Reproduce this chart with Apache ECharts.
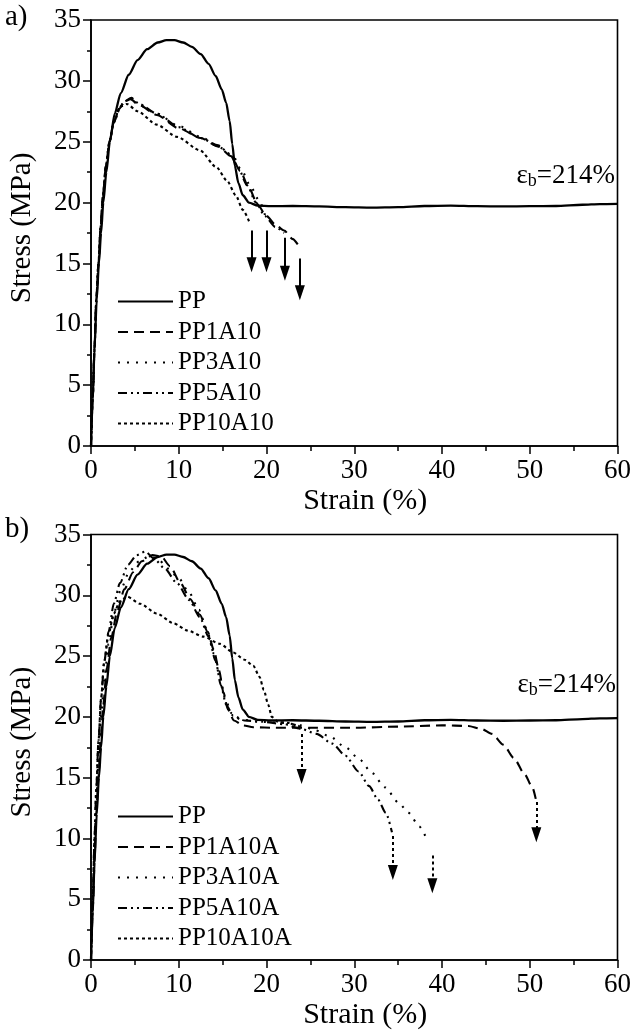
<!DOCTYPE html>
<html>
<head>
<meta charset="utf-8">
<script src="https://cdn.jsdelivr.net/npm/echarts@6/dist/echarts.min.js"></script>
<style>
html,body{margin:0;padding:0;background:#fff;}
#c{width:634px;height:1031px;}
</style>
</head>
<body>
<div id="c"></div>
<script>
// ---------- data ----------
const xTicks = [0, 10, 20, 30, 40, 50, 60];
const yTicks = [0, 5, 10, 15, 20, 25, 30, 35];

const namesA = ['PP', 'PP1A10', 'PP3A10', 'PP5A10', 'PP10A10'];
const namesB = ['PP', 'PP1A10A', 'PP3A10A', 'PP5A10A', 'PP10A10A'];

// [strain %, stress MPa]
const pp = [[0,0],[0.2,4],[0.4,8],[0.65,12],[0.9,15],[1.15,17.5],[1.4,20],[1.75,22.5],[2.15,25],[2.7,27.3],[3.4,29.0],[4.3,30.5],[5.3,31.7],[6.4,32.6],[7.6,33.15],[8.6,33.35],[9.5,33.35],[10.5,33.15],[11.5,32.8],[12.5,32.2],[13.4,31.4],[14.2,30.4],[14.9,29.3],[15.4,28.2],[15.8,26.7],[16.1,24.8],[16.4,23.0],[16.8,21.6],[17.3,20.6],[18,20.0],[19,19.75],[20.5,19.7],[23,19.72],[26,19.68],[29,19.62],[32,19.58],[35,19.62],[38,19.72],[41,19.75],[44,19.7],[47,19.68],[50,19.7],[53,19.72],[56,19.82],[58,19.88],[60,19.9]];

const pp1a10 = [[0,0],[0.2,4],[0.4,8],[0.6,12],[0.85,15],[1.1,18],[1.35,20.5],[1.7,23],[2.1,25],[2.6,26.6],[3.2,27.7],[3.8,28.3],[4.5,28.5],[5.5,28.0],[7.5,27.2],[10,26.1],[12.5,25.3],[14.5,24.6],[16,23.8],[17,22.6],[18,21.2],[19,19.8],[20,18.9],[21,18.2],[22,17.7],[23,17.0],[23.8,16.3]];
const pp3a10 = [[0,0],[0.2,4],[0.4,8],[0.6,12],[0.85,15],[1.1,18],[1.35,20.5],[1.7,23],[2.1,25],[2.6,26.6],[3.2,27.7],[3.8,28.3],[4.5,28.5],[5.5,28.0],[7.5,27.3],[10,26.3],[12.5,25.4],[14.5,24.6],[16.2,23.8],[17.2,22.6],[18.2,21.3],[19.2,20.1],[19.9,18.8]];
const pp5a10 = [[0,0],[0.2,4],[0.4,8],[0.6,12],[0.85,15],[1.1,18],[1.35,20.5],[1.7,23],[2.1,25],[2.6,26.6],[3.2,27.7],[3.8,28.3],[4.6,28.6],[5.5,28.1],[7.5,27.3],[10,26.2],[12.5,25.3],[14.5,24.7],[15.8,24.0],[16.8,22.8],[17.8,21.4],[18.8,20.0],[19.8,18.9],[21,18.0],[22,17.5]];
const pp10a10 = [[0,0],[0.2,4],[0.4,8],[0.6,12],[0.85,15],[1.1,18],[1.35,20.5],[1.7,23],[2.1,25],[2.6,26.6],[3.4,27.9],[4.1,28.1],[5.3,27.5],[7.5,26.4],[9.8,25.4],[12.4,24.3],[14.3,22.9],[15.5,21.8],[16.5,20.6],[17.3,19.4],[18.1,18.3]];

const pp1a10a = [[0,0],[0.2,4],[0.4,8],[0.6,12],[0.85,15],[1.1,18],[1.4,21],[1.8,24],[2.3,26.5],[3,28.7],[3.8,30.5],[4.8,31.9],[5.8,32.8],[7.0,33.3],[8,33.2],[9,32.4],[10.2,31.0],[11.3,29.7],[12.4,28.4],[13.3,27.0],[14,25.5],[14.6,23.8],[15.1,22.0],[15.6,20.6],[16.3,19.7],[17.3,19.3],[18.5,19.15],[21,19.1],[25,19.1],[30,19.1],[35,19.2],[40,19.3],[43,19.25],[44.5,19.0],[45.7,18.6],[47,17.7],[48.2,16.6],[49.4,15.3],[50.3,14.2],[50.7,13.2]];
const pp3a10a = [[0,0],[0.2,4.5],[0.4,9],[0.6,13],[0.85,16.5],[1.15,20],[1.5,23],[2,26],[2.6,28.5],[3.4,30.5],[4.4,32],[5.5,32.8],[6.6,33.2],[7.6,33.0],[8.8,32.2],[10,31.4],[11.2,30.2],[12.3,28.8],[13.2,27.2],[14.0,25.2],[14.7,23.2],[15.3,21.5],[16,20.3],[17,19.8],[19,19.6],[22,19.5],[24,19.3],[25.5,18.9],[27.2,18.4],[29,17.5],[30.6,16.5],[32,15.4],[33.5,14.2],[35.1,12.9],[36.2,12.1],[37.4,11.0],[38.1,10.2]];
const pp5a10a = [[0,0],[0.2,5],[0.4,10],[0.6,14],[0.85,18],[1.15,21.5],[1.5,24.5],[2,27],[2.6,29.3],[3.3,31],[4.2,32.5],[5.2,33.3],[6.2,33.6],[7.2,33.0],[8.4,32.2],[9.8,31.0],[11.2,29.6],[12.4,28.2],[13.4,26.6],[14.2,24.6],[14.8,22.6],[15.4,21.0],[16.2,20.1],[17.5,19.7],[19.5,19.6],[22,19.4],[24,19.0],[25.7,18.6],[27.5,17.8],[29,16.8],[30.5,15.5],[31.7,14.3],[32.7,13.2],[33.6,12.1],[34.3,10.5]];
const pp10a10a = [[0,0],[0.2,5],[0.4,10],[0.6,14],[0.85,18],[1.15,21.5],[1.5,24.5],[2.0,26.8],[2.6,28.5],[3.3,29.5],[4.1,29.9],[5.6,29.3],[7.5,28.5],[9.4,27.7],[11,27.1],[12.8,26.6],[14.7,26.0],[16.2,25.3],[17.5,24.7],[18.5,24.2],[19.2,23.3],[19.7,22.2],[20.2,21.0],[20.6,20.0],[21.3,19.6],[22.5,19.5],[23.5,19.3],[24,19.1]];

// failure arrows: [strain, from stress, to stress]
const arrowsA = [[18.3,17.7,14.9],[20.0,17.7,14.9],[22.1,17.1,14.2],[23.8,15.4,12.6]];
const arrowsB = [[24.0,18.6,15.1],[34.4,10.2,7.2],[38.9,8.6,6.1],[50.75,13.0,10.3]];

// ---------- styling ----------
const FONT = '"Liberation Serif", "Times New Roman", Times, serif';
const dashes = {
  solid: 'solid',
  dash: [10, 6],
  sparseDot: [2, 7],
  dashDot: [9, 4, 2, 4, 2, 4],
  denseDot: [3, 3]
};

function lineSeries(name, data, styleKey, gi, arrow, arrowType) {
  const s = {
    name: name, type: 'line', data: data,
    xAxisIndex: gi, yAxisIndex: gi,
    symbol: 'none', smooth: 0.25, smoothMonotone: 'x',
    lineStyle: { color: '#000', width: styleKey === 'solid' ? 2.3 : 2.1, type: dashes[styleKey] },
    itemStyle: { color: '#000' },
    z: 3
  };
  if (arrow) {
    s.markLine = {
      silent: true, animation: false,
      symbol: ['none', 'triangle'], symbolSize: [10, 15],
      label: { show: false },
      lineStyle: { color: '#000', width: 2, type: arrowType },
      emphasis: { disabled: true },
      data: [[{ coord: [arrow[0], arrow[1]] }, { coord: [arrow[0], arrow[2]] }]]
    };
  }
  return s;
}

const seriesA = [
  lineSeries(namesA[0], pp, 'solid', 0),
  lineSeries(namesA[1], pp1a10, 'dash', 0, arrowsA[3], 'solid'),
  lineSeries(namesA[2], pp3a10, 'sparseDot', 0, arrowsA[1], 'solid'),
  lineSeries(namesA[3], pp5a10, 'dashDot', 0, arrowsA[2], 'solid'),
  lineSeries(namesA[4], pp10a10, 'denseDot', 0, arrowsA[0], 'solid')
];
const seriesB = [
  lineSeries(namesB[0], pp, 'solid', 1),
  lineSeries(namesB[1], pp1a10a, 'dash', 1, arrowsB[3], [3, 3]),
  lineSeries(namesB[2], pp3a10a, 'sparseDot', 1, arrowsB[2], [3, 3]),
  lineSeries(namesB[3], pp5a10a, 'dashDot', 1, arrowsB[1], [3, 3]),
  lineSeries(namesB[4], pp10a10a, 'denseDot', 1, arrowsB[0], [3, 3])
];

function xAxisCfg(gi) {
  return {
    type: 'value', gridIndex: gi, min: xTicks[0], max: xTicks[xTicks.length - 1], interval: 10,
    name: 'Strain (%)', nameLocation: 'middle', nameGap: 40,
    nameTextStyle: { fontFamily: FONT, fontSize: 30, color: '#000', padding: [0, 0, 0, 22] },
    axisLine: { show: true, lineStyle: { color: '#000', width: 1.6 } },
    axisTick: { show: true, length: 8, lineStyle: { color: '#000', width: 1.5 } },
    minorTick: { show: true, splitNumber: 2, length: 5, lineStyle: { color: '#000', width: 1.5 } },
    axisLabel: { fontFamily: FONT, fontSize: 27, color: '#000', margin: 11 },
    splitLine: { show: false }
  };
}
function yAxisCfg(gi) {
  return {
    type: 'value', gridIndex: gi, min: yTicks[0], max: yTicks[yTicks.length - 1], interval: 5,
    name: 'Stress (MPa)', nameLocation: 'middle', nameGap: 54,
    nameTextStyle: { fontFamily: FONT, fontSize: 29, color: '#000', padding: [0, 0, 0, 10] },
    axisLine: { show: true, lineStyle: { color: '#000', width: 1.6 } },
    axisTick: { show: true, length: 8, lineStyle: { color: '#000', width: 1.5 } },
    minorTick: { show: true, splitNumber: 2, length: 4, lineStyle: { color: '#000', width: 1.5 } },
    axisLabel: { fontFamily: FONT, fontSize: 27, color: '#000', margin: 10 },
    splitLine: { show: false }
  };
}
function legendCfg(names, top) {
  return {
    data: names, orient: 'vertical', left: 117, top: top, padding: 0,
    itemWidth: 55, itemHeight: 12, itemGap: 5.5,
    selectedMode: false,
    itemStyle: { opacity: 0 },
    textStyle: { fontFamily: FONT, fontSize: 25, color: '#000', padding: [0, 0, 0, 0] }
  };
}
function epsText(right, top) {
  return {
    type: 'text', right: right, top: top, z: 10,
    style: {
      text: '{e|ε}{s|b}{e|=214%}',
      rich: {
        e: { fontFamily: FONT, fontSize: 27, color: '#000', lineHeight: 30 },
        s: { fontFamily: FONT, fontSize: 18, color: '#000', lineHeight: 18, verticalAlign: 'bottom' }
      }
    }
  };
}

const chart = echarts.init(document.getElementById('c'), null, { renderer: 'canvas' });
chart.setOption({
  animation: false,
  backgroundColor: '#fff',
  grid: [
    { left: 90, right: 14, top: 20, height: 426, show: true, borderColor: '#000', borderWidth: 1.6, backgroundColor: 'transparent' },
    { left: 90, right: 14, top: 534.5, height: 426, show: true, borderColor: '#000', borderWidth: 1.6, backgroundColor: 'transparent' }
  ],
  xAxis: [xAxisCfg(0), xAxisCfg(1)],
  yAxis: [yAxisCfg(0), yAxisCfg(1)],
  legend: [legendCfg(namesA, 289), legendCfg(namesB, 804)],
  series: seriesA.concat(seriesB),
  graphic: [
    { type: 'text', left: 5, top: 3, style: { text: 'a)', fontFamily: FONT, fontSize: 29, fill: '#000' } },
    { type: 'text', left: 5, top: 515, style: { text: 'b)', fontFamily: FONT, fontSize: 29, fill: '#000' } },
    epsText(19, 162),
    epsText(18, 671)
  ]
});
</script>
</body>
</html>
